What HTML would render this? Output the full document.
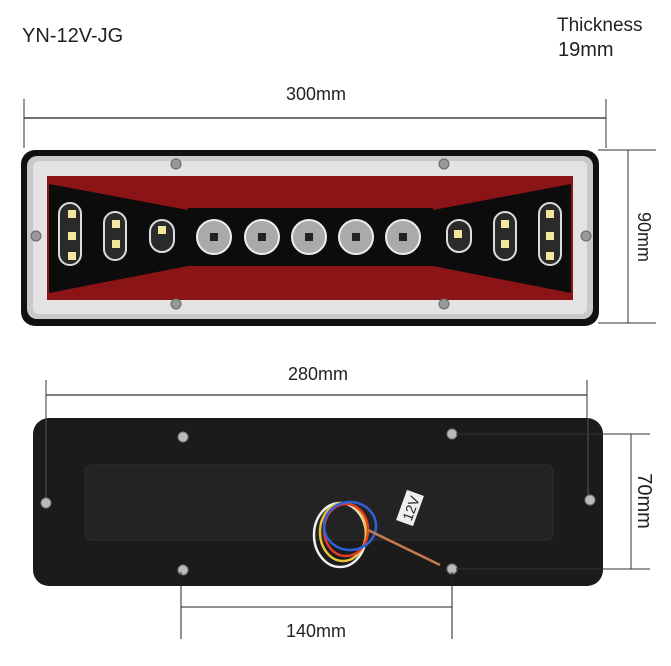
<!DOCTYPE html>
<html><head><meta charset="utf-8"><style>
html,body{margin:0;padding:0;background:#fff}
svg{display:block}
text{font-family:"Liberation Sans",sans-serif;fill:#222}
</style></head><body>
<svg width="671" height="666" viewBox="0 0 671 666">
<text x="22" y="42" font-size="20">YN-12V-JG</text>
<text x="557" y="31" font-size="19">Thickness</text>
<text x="558" y="56" font-size="20">19mm</text>
<!-- 300 dim -->
<line x1="24" y1="118" x2="606" y2="118" stroke="#444" stroke-width="1.5"/>
<line x1="24" y1="99" x2="24" y2="148" stroke="#333"/>
<line x1="606" y1="99" x2="606" y2="148" stroke="#333"/>
<text x="316" y="100" font-size="18" text-anchor="middle">300mm</text>
<!-- 90 dim -->
<line x1="598" y1="150" x2="656" y2="150" stroke="#333"/>
<line x1="598" y1="323" x2="656" y2="323" stroke="#333"/>
<line x1="628" y1="150" x2="628" y2="323" stroke="#333"/>
<text x="0" y="0" font-size="18" transform="translate(638,237) rotate(90)" text-anchor="middle">90mm</text>
<!-- top lamp -->
<rect x="21" y="150" width="578" height="176" rx="14" fill="#111"/>
<rect x="27" y="156" width="566" height="163" rx="10" fill="#c9c9c9"/>
<rect x="33" y="161" width="554" height="153" rx="6" fill="#e3e3e3"/>
<rect x="47" y="176" width="526" height="124" fill="#8a1416"/>
<polygon points="49,184 188,210 188,266 49,293" fill="#0c0c0c"/>
<polygon points="571,184 433,210 433,266 571,293" fill="#0c0c0c"/>
<rect x="188" y="208" width="245" height="58" fill="#0c0c0c"/>
<g fill="none" stroke="#ddd" stroke-width="2">
<rect x="59" y="203" width="22" height="62" rx="11" fill="#2a2a2a"/>
<rect x="104" y="212" width="22" height="48" rx="11" fill="#2a2a2a"/>
<rect x="150" y="220" width="24" height="32" rx="12" fill="#2a2a2a"/>
<rect x="447" y="220" width="24" height="32" rx="12" fill="#2a2a2a"/>
<rect x="494" y="212" width="22" height="48" rx="11" fill="#2a2a2a"/>
<rect x="539" y="203" width="22" height="62" rx="11" fill="#2a2a2a"/>
</g>
<g fill="#f3e7a0">
<rect x="68" y="210" width="8" height="8"/><rect x="68" y="232" width="8" height="8"/><rect x="68" y="252" width="8" height="8"/>
<rect x="112" y="220" width="8" height="8"/><rect x="112" y="240" width="8" height="8"/>
<rect x="158" y="226" width="8" height="8"/>
<rect x="454" y="230" width="8" height="8"/>
<rect x="501" y="220" width="8" height="8"/><rect x="501" y="240" width="8" height="8"/>
<rect x="546" y="210" width="8" height="8"/><rect x="546" y="232" width="8" height="8"/><rect x="546" y="252" width="8" height="8"/>
</g>
<g fill="#aaa" stroke="#eee" stroke-width="2">
<circle cx="214" cy="237" r="17"/><circle cx="262" cy="237" r="17"/><circle cx="309" cy="237" r="17"/><circle cx="356" cy="237" r="17"/><circle cx="403" cy="237" r="17"/>
</g>
<g fill="#222"><rect x="210" y="233" width="8" height="8"/><rect x="258" y="233" width="8" height="8"/><rect x="305" y="233" width="8" height="8"/><rect x="352" y="233" width="8" height="8"/><rect x="399" y="233" width="8" height="8"/></g>
<g fill="#999" stroke="#666"><circle cx="176" cy="164" r="5"/><circle cx="444" cy="164" r="5"/><circle cx="176" cy="304" r="5"/><circle cx="444" cy="304" r="5"/><circle cx="36" cy="236" r="5"/><circle cx="586" cy="236" r="5"/></g>
<!-- 280 dim -->
<line x1="46" y1="395" x2="587" y2="395" stroke="#333" stroke-width="1.2"/>
<line x1="46" y1="380" x2="46" y2="500" stroke="#333"/>
<line x1="587" y1="380" x2="587" y2="500" stroke="#333"/>
<text x="318" y="380" font-size="18" text-anchor="middle">280mm</text>
<!-- bottom plate -->
<rect x="33" y="418" width="570" height="168" rx="16" fill="#1b1b1b"/>
<rect x="85" y="465" width="468" height="75" rx="6" fill="#232323" stroke="#2e2e2e"/>
<line x1="46" y1="418" x2="46" y2="500" stroke="#555"/>
<line x1="588" y1="418" x2="588" y2="500" stroke="#555"/>
<g fill="none" stroke-width="2.5">
<ellipse cx="340" cy="535" rx="26" ry="32" stroke="#f2f2f2"/>
<ellipse cx="343" cy="532" rx="23" ry="29" stroke="#e8c33a"/>
<ellipse cx="346" cy="530" rx="22" ry="26" stroke="#e33b2a"/>
<ellipse cx="350" cy="526" rx="26" ry="24" stroke="#3060d8"/>
<path d="M368,530 L440,565" stroke="#c47a4a"/>
</g>
<g transform="translate(410,508) rotate(-70)"><rect x="-16" y="-9" width="32" height="18" fill="#eee"/><text x="0" y="6" font-size="14" text-anchor="middle">12V</text></g>
<g fill="#bbb" stroke="#777"><circle cx="183" cy="437" r="5"/><circle cx="452" cy="434" r="5"/><circle cx="46" cy="503" r="5"/><circle cx="590" cy="500" r="5"/><circle cx="183" cy="570" r="5"/><circle cx="452" cy="569" r="5"/></g>
<!-- 70 dim -->
<line x1="456" y1="434" x2="650" y2="434" stroke="#333"/>
<line x1="456" y1="569" x2="650" y2="569" stroke="#333"/>
<line x1="631" y1="434" x2="631" y2="569" stroke="#333"/>
<text x="0" y="0" font-size="20" transform="translate(638,501) rotate(90)" text-anchor="middle">70mm</text>
<!-- 140 dim -->
<line x1="181" y1="572" x2="181" y2="639" stroke="#222"/>
<line x1="452" y1="572" x2="452" y2="639" stroke="#222"/>
<line x1="181" y1="607" x2="452" y2="607" stroke="#222"/>
<text x="316" y="637" font-size="18" text-anchor="middle">140mm</text>
</svg>
</body></html>
